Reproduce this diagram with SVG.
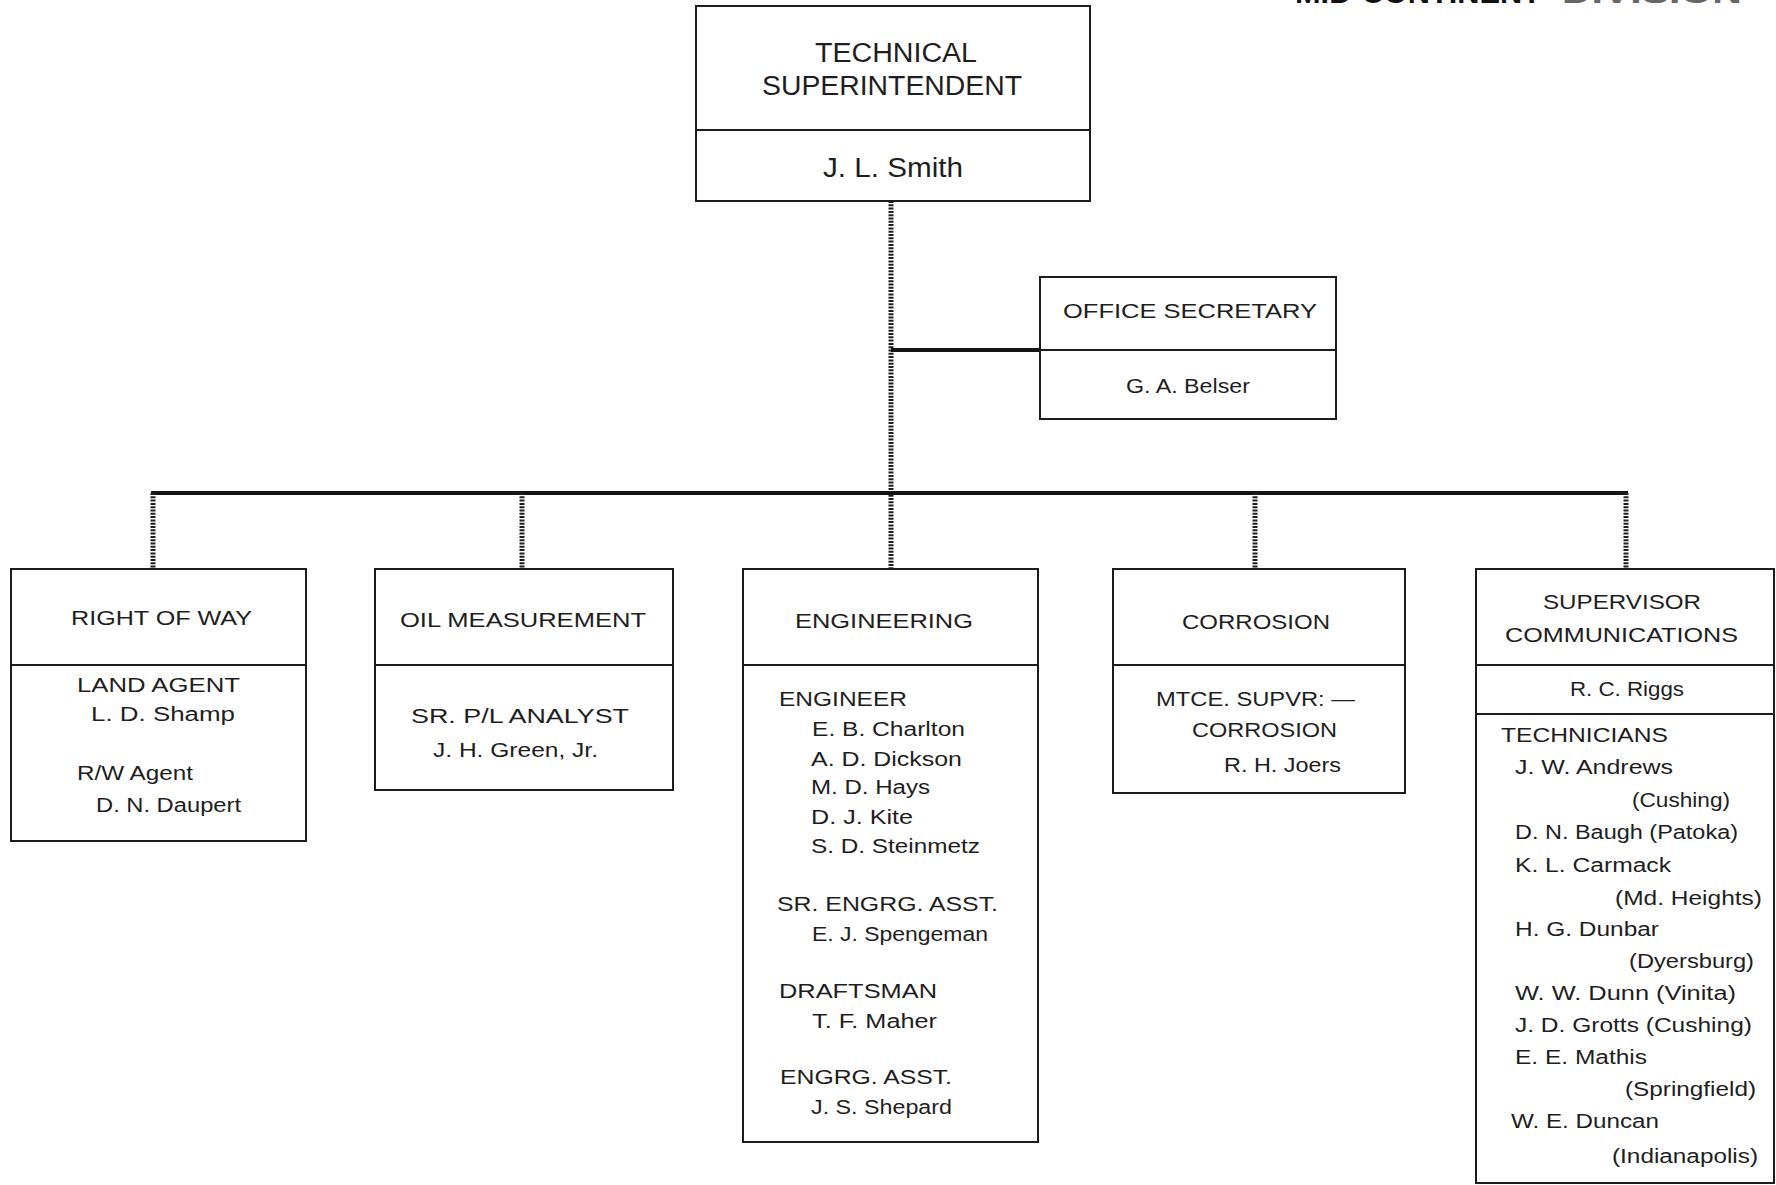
<svg xmlns="http://www.w3.org/2000/svg" width="1776" height="1185" viewBox="0 0 1776 1185">
<style>
.bg{fill:#ffffff}
.box{fill:#ffffff;stroke:#1c1c1c;stroke-width:2}
.div{stroke:#1c1c1c;stroke-width:2}
.t{font-family:"Liberation Sans",Arial,sans-serif;font-size:20px;fill:#1e1e1e}
.h{font-size:21px}
.big{font-size:27px}
.hdr{font-family:"Liberation Sans",Arial,sans-serif;font-weight:bold;font-size:30px;fill:#111}
.solid{stroke:#151515;stroke-width:4;fill:none}
.tex{stroke:#202020;stroke-width:5;stroke-dasharray:2 1.3;fill:none}
</style>
<rect class="bg" x="0" y="0" width="1776" height="1185"/>
<g id="page-header">
<text class="hdr" x="1295" y="3" textLength="246" lengthAdjust="spacingAndGlyphs">MID-CONTINENT</text>
<text class="hdr" x="1562" y="3" textLength="180" lengthAdjust="spacingAndGlyphs" style="fill:#666">DIVISION</text>
</g>
<g id="connectors">
<line class="tex" x1="891" y1="201" x2="891" y2="569"/>
<line class="solid" x1="891" y1="350" x2="1040" y2="350"/>
<line class="solid" x1="151" y1="493" x2="1628" y2="493"/>
<line class="tex" x1="153" y1="493" x2="153" y2="569"/>
<line class="tex" x1="522" y1="493" x2="522" y2="569"/>
<line class="tex" x1="1255" y1="493" x2="1255" y2="569"/>
<line class="tex" x1="1626" y1="493" x2="1626" y2="569"/>
</g>
<g id="technical-superintendent">
<rect class="box" x="696" y="6" width="394" height="195"/>
<line class="div" x1="696" y1="130" x2="1090" y2="130"/>
<text class="t big" x="815" y="62" textLength="162" lengthAdjust="spacingAndGlyphs">TECHNICAL</text>
<text class="t big" x="762" y="95" textLength="260" lengthAdjust="spacingAndGlyphs">SUPERINTENDENT</text>
<text class="t big" x="823" y="177" textLength="140" lengthAdjust="spacingAndGlyphs">J. L. Smith</text>
</g>
<g id="office-secretary">
<rect class="box" x="1040" y="277" width="296" height="142"/>
<line class="div" x1="1040" y1="350" x2="1336" y2="350"/>
<text class="t" x="1063" y="318" textLength="254" lengthAdjust="spacingAndGlyphs">OFFICE SECRETARY</text>
<text class="t" x="1126" y="393" textLength="124" lengthAdjust="spacingAndGlyphs">G. A. Belser</text>
</g>
<g id="right-of-way">
<rect class="box" x="11" y="569" width="295" height="272"/>
<line class="div" x1="11" y1="665" x2="306" y2="665"/>
<text class="t h" x="71" y="625" textLength="181" lengthAdjust="spacingAndGlyphs">RIGHT OF WAY</text>
<text class="t" x="77" y="692" textLength="163" lengthAdjust="spacingAndGlyphs">LAND AGENT</text>
<text class="t" x="91" y="721" textLength="144" lengthAdjust="spacingAndGlyphs">L. D. Shamp</text>
<text class="t" x="77" y="780" textLength="116" lengthAdjust="spacingAndGlyphs">R/W Agent</text>
<text class="t" x="96" y="812" textLength="145" lengthAdjust="spacingAndGlyphs">D. N. Daupert</text>
</g>
<g id="oil-measurement">
<rect class="box" x="375" y="569" width="298" height="221"/>
<line class="div" x1="375" y1="665" x2="673" y2="665"/>
<text class="t h" x="400" y="627" textLength="246" lengthAdjust="spacingAndGlyphs">OIL MEASUREMENT</text>
<text class="t" x="411" y="723" textLength="218" lengthAdjust="spacingAndGlyphs">SR. P/L ANALYST</text>
<text class="t" x="433" y="757" textLength="165" lengthAdjust="spacingAndGlyphs">J. H. Green, Jr.</text>
</g>
<g id="engineering">
<rect class="box" x="743" y="569" width="295" height="573"/>
<line class="div" x1="743" y1="665" x2="1038" y2="665"/>
<text class="t h" x="795" y="628" textLength="178" lengthAdjust="spacingAndGlyphs">ENGINEERING</text>
<text class="t" x="779" y="706" textLength="128" lengthAdjust="spacingAndGlyphs">ENGINEER</text>
<text class="t" x="812" y="736" textLength="153" lengthAdjust="spacingAndGlyphs">E. B. Charlton</text>
<text class="t" x="811" y="766" textLength="151" lengthAdjust="spacingAndGlyphs">A. D. Dickson</text>
<text class="t" x="811" y="794" textLength="119" lengthAdjust="spacingAndGlyphs">M. D. Hays</text>
<text class="t" x="811" y="824" textLength="102" lengthAdjust="spacingAndGlyphs">D. J. Kite</text>
<text class="t" x="811" y="853" textLength="169" lengthAdjust="spacingAndGlyphs">S. D. Steinmetz</text>
<text class="t" x="777" y="911" textLength="221" lengthAdjust="spacingAndGlyphs">SR. ENGRG. ASST.</text>
<text class="t" x="812" y="941" textLength="176" lengthAdjust="spacingAndGlyphs">E. J. Spengeman</text>
<text class="t" x="779" y="998" textLength="158" lengthAdjust="spacingAndGlyphs">DRAFTSMAN</text>
<text class="t" x="812" y="1028" textLength="125" lengthAdjust="spacingAndGlyphs">T. F. Maher</text>
<text class="t" x="780" y="1084" textLength="172" lengthAdjust="spacingAndGlyphs">ENGRG. ASST.</text>
<text class="t" x="811" y="1114" textLength="141" lengthAdjust="spacingAndGlyphs">J. S. Shepard</text>
</g>
<g id="corrosion">
<rect class="box" x="1113" y="569" width="292" height="224"/>
<line class="div" x1="1113" y1="665" x2="1405" y2="665"/>
<text class="t h" x="1182" y="629" textLength="148" lengthAdjust="spacingAndGlyphs">CORROSION</text>
<text class="t" x="1156" y="706" textLength="199" lengthAdjust="spacingAndGlyphs">MTCE. SUPVR: —</text>
<text class="t" x="1192" y="737" textLength="145" lengthAdjust="spacingAndGlyphs">CORROSION</text>
<text class="t" x="1224" y="772" textLength="117" lengthAdjust="spacingAndGlyphs">R. H. Joers</text>
</g>
<g id="supervisor-communications">
<rect class="box" x="1476" y="569" width="298" height="614"/>
<line class="div" x1="1476" y1="665" x2="1774" y2="665"/>
<line class="div" x1="1476" y1="714" x2="1774" y2="714"/>
<text class="t h" x="1543" y="609" textLength="158" lengthAdjust="spacingAndGlyphs">SUPERVISOR</text>
<text class="t h" x="1505" y="642" textLength="233" lengthAdjust="spacingAndGlyphs">COMMUNICATIONS</text>
<text class="t" x="1570" y="696" textLength="114" lengthAdjust="spacingAndGlyphs">R. C. Riggs</text>
<text class="t" x="1501" y="742" textLength="167" lengthAdjust="spacingAndGlyphs">TECHNICIANS</text>
<text class="t" x="1515" y="774" textLength="158" lengthAdjust="spacingAndGlyphs">J. W. Andrews</text>
<text class="t" x="1632" y="807" textLength="98" lengthAdjust="spacingAndGlyphs">(Cushing)</text>
<text class="t" x="1515" y="839" textLength="223" lengthAdjust="spacingAndGlyphs">D. N. Baugh (Patoka)</text>
<text class="t" x="1515" y="872" textLength="156" lengthAdjust="spacingAndGlyphs">K. L. Carmack</text>
<text class="t" x="1615" y="905" textLength="147" lengthAdjust="spacingAndGlyphs">(Md. Heights)</text>
<text class="t" x="1515" y="936" textLength="144" lengthAdjust="spacingAndGlyphs">H. G. Dunbar</text>
<text class="t" x="1629" y="968" textLength="125" lengthAdjust="spacingAndGlyphs">(Dyersburg)</text>
<text class="t" x="1515" y="1000" textLength="221" lengthAdjust="spacingAndGlyphs">W. W. Dunn (Vinita)</text>
<text class="t" x="1515" y="1032" textLength="237" lengthAdjust="spacingAndGlyphs">J. D. Grotts (Cushing)</text>
<text class="t" x="1515" y="1064" textLength="132" lengthAdjust="spacingAndGlyphs">E. E. Mathis</text>
<text class="t" x="1625" y="1096" textLength="131" lengthAdjust="spacingAndGlyphs">(Springfield)</text>
<text class="t" x="1511" y="1128" textLength="148" lengthAdjust="spacingAndGlyphs">W. E. Duncan</text>
<text class="t" x="1612" y="1163" textLength="146" lengthAdjust="spacingAndGlyphs">(Indianapolis)</text>
</g>
</svg>
